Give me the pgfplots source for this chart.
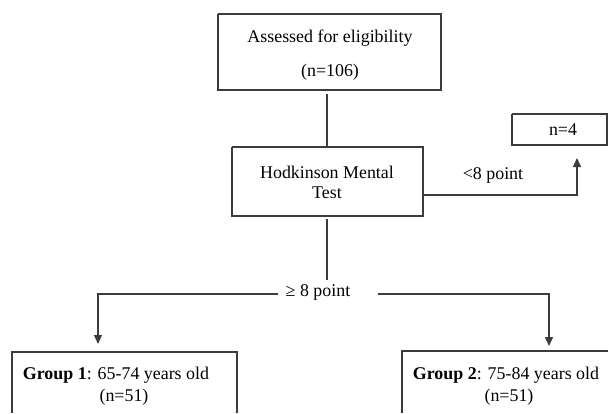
\documentclass[border=0pt]{standalone}
\usepackage{pgfplots}
\pgfplotsset{compat=1.18}
\usetikzlibrary{arrows.meta}
\usepackage{fontspec}
\setmainfont{Liberation Serif}
\definecolor{ln}{HTML}{3C3C3C}
\begin{document}
\begin{tikzpicture}
\begin{axis}[
  width=609pt, height=414pt, scale only axis,
  xmin=0, xmax=609, ymin=0, ymax=414, y dir=reverse,
  hide axis,
  nodes={font=\fontsize{17.9}{21}\selectfont, text=black},
]
\tikzset{fl/.style={ln, line width=1.4pt, mark=none, solid}}
% invisible frame so the picture spans the whole axis area
\addplot[draw=none, mark=none] coordinates {(0,0) (609,0) (609,414) (0,414)};
% boxes
\addplot[fl] coordinates {(218,14) (441,14) (441,90) (218,90) (218,14)};
\addplot[fl] coordinates {(232,147) (423,147) (423,216) (232,216) (232,147)};
\addplot[fl] coordinates {(512,114) (607,114) (607,145) (512,145) (512,114)};
\addplot[fl] coordinates {(12,413.3) (12,352) (237,352) (237,413.3)};
\addplot[fl] coordinates {(608.3,351) (402,351) (402,413.3)};
% connectors
\addplot[fl] coordinates {(327,94) (327,147)};
\addplot[fl] coordinates {(327,219) (327,280)};
\addplot[fl, -{Triangle[length=9pt,width=8pt]}] coordinates {(423,195) (577,195) (577,158)};
\addplot[fl, -{Triangle[length=9pt,width=8pt]}] coordinates {(278,294) (98,294) (98,344)};
\addplot[fl, -{Triangle[length=9pt,width=8pt]}] coordinates {(378,294) (549,294) (549,346)};
% texts
\node at (axis cs:330,38) {Assessed for eligibility};
\node at (axis cs:330,72) {(n=106)};
\node at (axis cs:327,172) {Hodkinson Mental};
\node at (axis cs:327,193) {Test};
\node at (axis cs:563,130) {n=4};
\node at (axis cs:493,175) {<8 point};
\node at (axis cs:318,292) {≥ 8 point};
\node at (axis cs:116,375) {\textbf{Group 1}: 65-74 years old};
\node at (axis cs:124,397) {(n=51)};
\node at (axis cs:506,375) {\textbf{Group 2}: 75-84 years old};
\node at (axis cs:509,397) {(n=51)};
\end{axis}
\end{tikzpicture}
\end{document}
